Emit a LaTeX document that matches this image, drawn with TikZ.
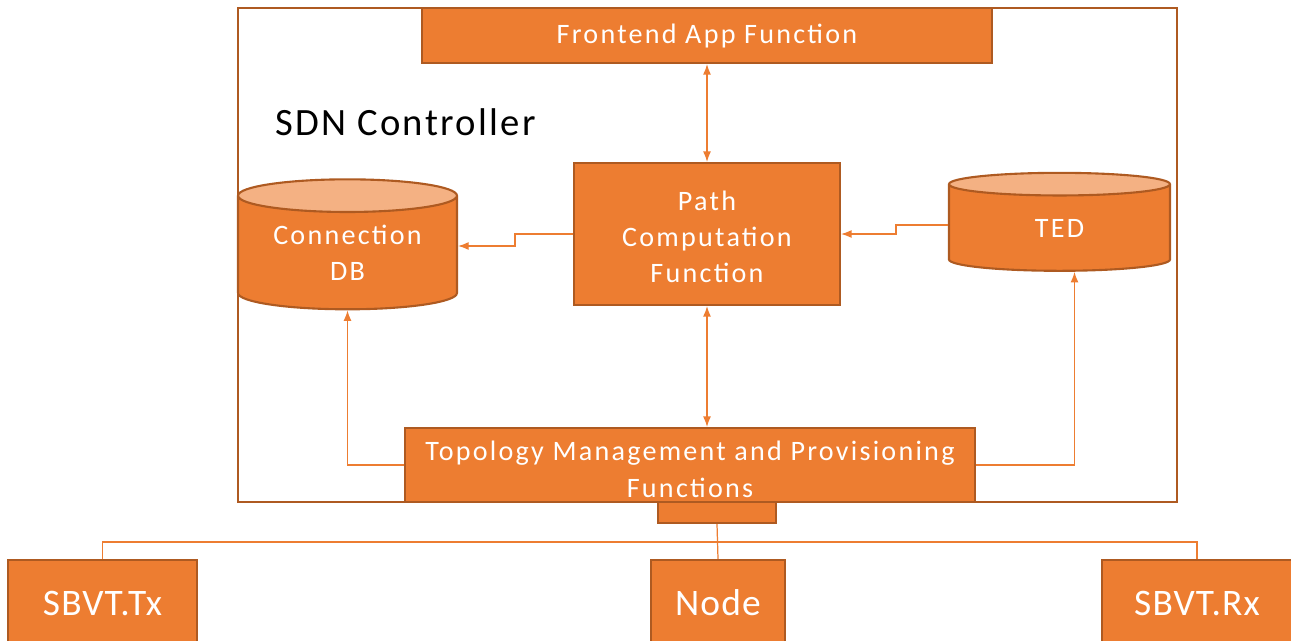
\documentclass[tikz,border=0pt]{standalone}
\usepackage{fontspec}
\setmainfont{Carlito}
\usetikzlibrary{shapes.geometric}
\usetikzlibrary{arrows.meta}
\usetikzlibrary{calc}
\definecolor{boxfill}{HTML}{ED7D31}
\definecolor{boxline}{HTML}{AE5A21}
\definecolor{dbtop}{HTML}{F4B183}

\begin{document}
\begin{tikzpicture}[x=0.02cm, y=-0.02cm,
    block/.style={rectangle, draw=boxline, line width=1.2pt, fill=boxfill, text=white, align=center, inner sep=0pt},
    db/.style={cylinder, shape border rotate=90, draw=boxline, line width=1.2pt, cylinder uses custom fill, cylinder body fill=boxfill, cylinder end fill=dbtop, text=white, align=center, inner sep=0pt},
    small/.style={font=\fontsize{16}{20.5}\selectfont\addfontfeatures{LetterSpace=8}},
    large/.style={font=\fontsize{21.3}{26}\selectfont\addfontfeatures{LetterSpace=3}},
    wire/.style={boxfill, line width=0.7pt},
    link/.style={wire, -{Latex[length=6pt,width=4.5pt]}},
    twoway/.style={wire, {Latex[length=6pt,width=4.5pt]}-{Latex[length=6pt,width=4.5pt]}}]
    \useasboundingbox (0,0) rectangle (1291,640);

    % Controller frame
    \node[draw=boxline, line width=1.2pt, minimum width=18.78cm, minimum height=9.88cm] (ctrl) at (707.5,255) {};
    \node[anchor=base west, font=\fontsize{22}{26}\selectfont\addfontfeatures{LetterSpace=6}] (title) at (269,135) {SDN Controller};

    % Functions inside the controller
    \node[block, small, minimum width=11.4cm, minimum height=1.1cm] (front) at (707,35.5) {Frontend App Function};
    \node[block, minimum width=5.32cm, minimum height=2.84cm] (path) at (707,234) {};
    \node[small, text=white, align=center] (pathtext) at (707,237) {Path\\Computation\\Function};
    \node[block, minimum width=11.4cm, minimum height=1.48cm] (topo) at (690,465) {};
    \node[text=white, align=center, font=\fontsize{16}{21}\selectfont\addfontfeatures{LetterSpace=8}] (topotext) at (690,469) {Topology Management and Provisioning\\Functions};
    \node[block, minimum width=2.36cm, minimum height=0.42cm] (stub) at (717,512.5) {};

    % Databases
    \node[db, small, aspect=0.22, minimum width=4.38cm, minimum height=2.6cm] (conndb) at (347.5,253) {Connection\\DB};
    \node[db, small, aspect=0.46, minimum width=4.42cm, minimum height=1.96cm] (ted) at (1059.5,228) {TED};

    % Devices
    \node[block, large, minimum width=3.78cm, minimum height=1.72cm] (tx) at (102.5,603) {SBVT.Tx};
    \node[block, large, minimum width=2.68cm, minimum height=1.72cm] (dev) at (718,603) {Node};
    \node[block, large, minimum width=3.8cm, minimum height=1.72cm] (rx) at (1197,603) {SBVT.Rx};

    % Arrows between functions
    \draw[twoway] (front.south) -- (path.north);
    \draw[twoway] (path.south) -- (path.south |- topo.north);
    \draw[link] (path.west) -- ++(-58,0) |- ($(conndb.east)+(0,-7)$);
    \draw[link] ($(ted.west)+(0,-3)$) -- ++(-52,0) |- (path.east);
    \draw[link] (topo.west) -| (conndb.south);
    \draw[link] (topo.east) -| ($(ted.south)+(15,0)$);

    % Bus to the devices
    \draw[wire] (stub.south) -- (dev.north);
    \draw[wire] (tx.north) -- ++(0,-17) -| (rx.north);
\end{tikzpicture}
\end{document}
